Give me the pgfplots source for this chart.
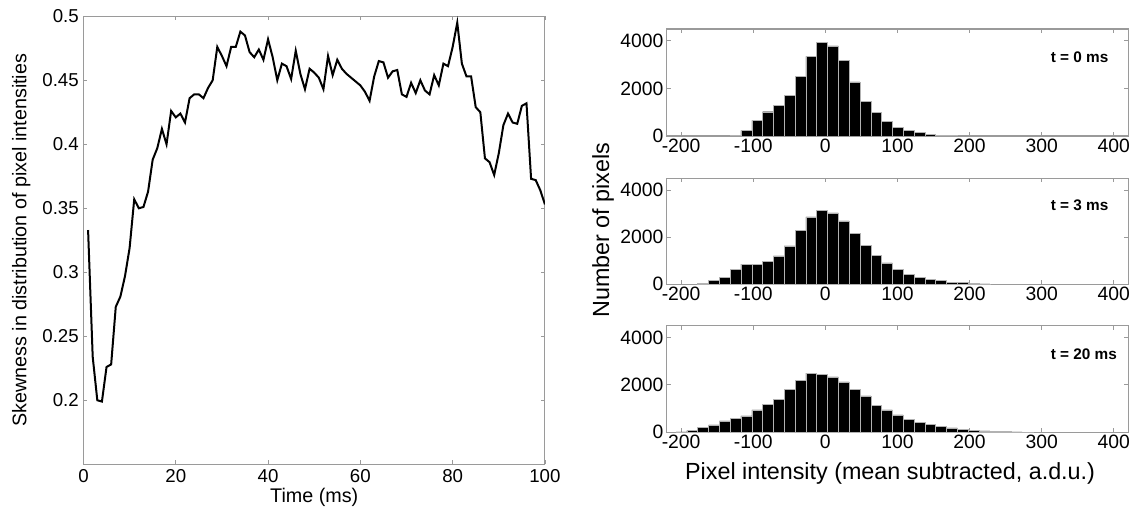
\documentclass[border=0pt]{standalone}
\usepackage{fontspec}
\setmainfont{Liberation Sans}
\usepackage{pgfplots}
\pgfplotsset{compat=1.18}

\definecolor{axgray}{HTML}{9A9A9A}
\newcommand{\tickfont}{\fontsize{14}{16}\selectfont}
\newcommand{\htickfont}{\fontsize{14.5}{16}\selectfont}
\newcommand{\labfont}{\fontsize{14.8}{17}\selectfont}
\newcommand{\hlabfont}{\fontsize{17.5}{20}\selectfont}

\pgfplotsset{
  mat/.style={scale only axis, axis line style={axgray, line width=0.8pt},
    tick style={axgray, line width=0.6pt}, tick align=inside, major tick length=3pt,
    tick label style={font=\tickfont, black},
    /pgf/number format/assume math mode=true, /pgf/number format/1000 sep={},
    scaled ticks=false, clip=true},
  hist/.style={mat, width=346.2pt, xmin=-220, xmax=420, ymin=0, ymax=4500,
    xtick={-200,-100,0,100,200,300,400}, ytick={0,2000,4000},
    tick label style={font=\htickfont},
    xticklabel style={yshift=1.5pt}, yticklabel style={xshift=1pt}},
  bars/.style={ybar interval, fill=black, draw=black!30, line width=0.35pt}
}

\begin{document}
\begin{tikzpicture}
\useasboundingbox (0,0) rectangle (848.25pt,382.5pt);

% skewness vs time
\begin{axis}[mat, at={(62.6pt,34.3pt)}, anchor=south west, width=346.1pt, height=336pt,
  xmin=0, xmax=100, ymin=0.15, ymax=0.5,
  xtick={0,20,40,60,80,100}, ytick={0.2,0.25,0.3,0.35,0.4,0.45,0.5},
  xlabel={\labfont Time (ms)}, ylabel={\labfont Skewness in distribution of pixel intensities},
  xlabel style={at={(axis description cs:0.5,-0.074)}, anchor=center},
  ylabel style={at={(axis description cs:-0.135,0.5)}, anchor=center}]
\addplot[black, line width=1.5pt] coordinates {
(1,0.333) (2,0.234) (3,0.200) (4,0.199) (5,0.226) (6,0.228) (7,0.273) (8,0.281) (9,0.297) (10,0.319)
(11,0.357) (12,0.350) (13,0.351) (14,0.363) (15,0.388) (16,0.397) (17,0.412) (18,0.400) (19,0.426) (20,0.421)
(21,0.424) (22,0.417) (23,0.436) (24,0.439) (25,0.439) (26,0.436) (27,0.444) (28,0.450) (29,0.476) (30,0.469)
(31,0.461) (32,0.476) (33,0.476) (34,0.488) (35,0.485) (36,0.472) (37,0.468) (38,0.474) (39,0.466) (40,0.482)
(41,0.468) (42,0.450) (43,0.463) (44,0.461) (45,0.451) (46,0.473) (47,0.455) (48,0.443) (49,0.459) (50,0.456)
(51,0.452) (52,0.443) (53,0.469) (54,0.454) (55,0.466) (56,0.459) (57,0.455) (58,0.452) (59,0.449) (60,0.446)
(61,0.441) (62,0.434) (63,0.453) (64,0.465) (65,0.464) (66,0.452) (67,0.457) (68,0.458) (69,0.439) (70,0.437)
(71,0.448) (72,0.440) (73,0.450) (74,0.442) (75,0.439) (76,0.454) (77,0.446) (78,0.463) (79,0.461) (80,0.476)
(81,0.495) (82,0.463) (83,0.453) (84,0.453) (85,0.429) (86,0.425) (87,0.389) (88,0.386) (89,0.376) (90,0.393)
(91,0.415) (92,0.424) (93,0.417) (94,0.416) (95,0.430) (96,0.432) (97,0.373) (98,0.372) (99,0.364) (100,0.353)};
\end{axis}

% t = 0 ms
\begin{axis}[hist, at={(500pt,280.5pt)}, anchor=south west, height=80.25pt]
\addplot[bars] coordinates {
(-132,40) (-117,240) (-102,660) (-87,1020) (-72,1300) (-57,1720) (-42,2500) (-27,3350) (-12,3930)
(3,3790) (18,3180) (33,2280) (48,1460) (63,980) (78,610) (93,370) (108,230) (123,155) (138,70)
(153,40) (168,30) (183,0)};
\node[anchor=west, font=\fontsize{11.5}{13}\selectfont\bfseries] at (rel axis cs:0.822,0.74) {t = 0 ms};
\end{axis}

% t = 3 ms
\begin{axis}[hist, at={(500pt,169.3pt)}, anchor=south west, height=79.5pt,
  ylabel={\hlabfont Number of pixels},
  ylabel style={at={(axis description cs:-0.138,0.51)}, anchor=center}]
\addplot[bars] coordinates {
(-177,30) (-162,180) (-147,290) (-132,630) (-117,860) (-102,860) (-87,980) (-72,1210) (-57,1630)
(-42,2300) (-27,2860) (-12,3130) (3,3030) (18,2690) (33,2150) (48,1660) (63,1240) (78,910)
(93,630) (108,420) (123,290) (138,220) (153,150) (168,80) (183,70) (198,30) (213,15) (228,0)};
\node[anchor=west, font=\fontsize{11.5}{13}\selectfont\bfseries] at (rel axis cs:0.822,0.75) {t = 3 ms};
\end{axis}

% t = 20 ms
\begin{axis}[hist, at={(500pt,58.3pt)}, anchor=south west, height=80pt,
  xlabel={\hlabfont Pixel intensity (mean subtracted, a.d.u.)},
  xlabel style={at={(axis description cs:0.484,-0.39)}, anchor=center}]
\addplot[bars] coordinates {
(-207,15) (-192,80) (-177,210) (-162,310) (-147,480) (-132,600) (-117,690) (-102,940) (-87,1180)
(-72,1400) (-57,1800) (-42,2200) (-27,2500) (-12,2440) (3,2340) (18,2130) (33,1800) (48,1530)
(63,1150) (78,940) (93,730) (108,550) (123,420) (138,320) (153,240) (168,180) (183,130) (198,80)
(213,55) (228,40) (243,30) (258,15) (273,10) (288,0)};
\node[anchor=west, font=\fontsize{11.5}{13}\selectfont\bfseries] at (rel axis cs:0.822,0.73) {t = 20 ms};
\end{axis}
\end{tikzpicture}
\end{document}
